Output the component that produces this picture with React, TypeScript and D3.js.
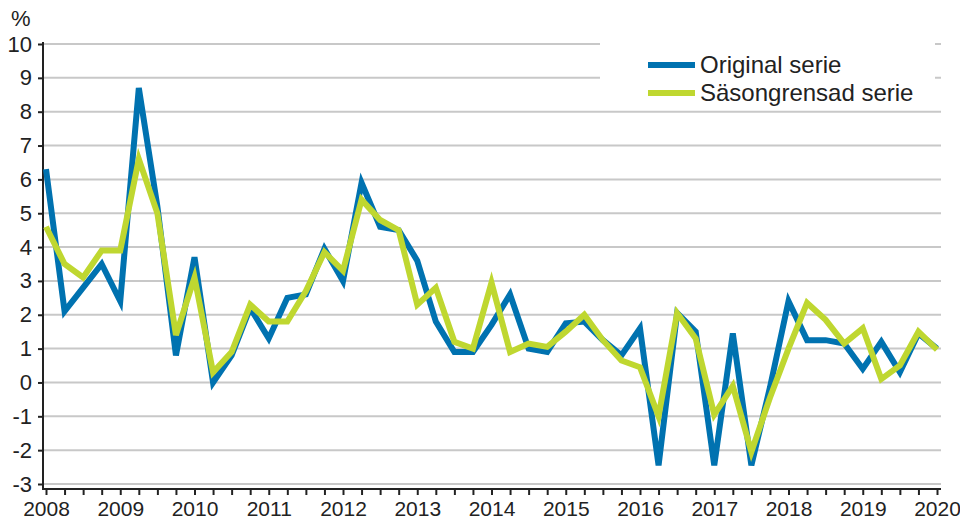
import React, { useEffect, useRef } from "react";
import * as d3 from "d3";

const years = [2008, 2009, 2010, 2011, 2012, 2013, 2014, 2015, 2016, 2017, 2018, 2019, 2020];
const quarters = years.flatMap((y) => (y === 2020 ? [`${y}Q1`] : [1, 2, 3, 4].map((q) => `${y}Q${q}`)));

const original = [
  6.3, 2.1, 2.8, 3.5, 2.4, 8.7, 5.2, 0.8, 3.7, 0.0, 0.8, 2.2, 1.3,
  2.5, 2.6, 3.95, 3.0, 5.9, 4.6, 4.5, 3.6, 1.8, 0.9, 0.9, 1.7, 2.6,
  1.0, 0.9, 1.75, 1.8, 1.25, 0.8, 1.6, -2.45, 2.05, 1.5, -2.45, 1.45,
  -2.45, -0.15, 2.4, 1.25, 1.25, 1.15, 0.4, 1.2, 0.3, 1.45, 1.0,
];
const seasonal = [
  4.6, 3.5, 3.1, 3.9, 3.9, 6.6, 5.0, 1.4, 3.1, 0.3, 0.9, 2.3, 1.8,
  1.8, 2.7, 3.85, 3.3, 5.4, 4.8, 4.5, 2.3, 2.8, 1.2, 1.0, 2.95, 0.9,
  1.15, 1.05, 1.5, 2.0, 1.25, 0.65, 0.45, -1.0, 2.05, 1.3, -0.95, -0.1,
  -2.05, -0.45, 1.0, 2.35, 1.85, 1.15, 1.6, 0.1, 0.5, 1.5, 0.97,
];
const yTicks = [-3, -2, -1, 0, 1, 2, 3, 4, 5, 6, 7, 8, 9, 10];
const seriesNames = ["Original serie", "Säsongrensad serie"];
const seriesColors = ["#0072B0", "#BFD730"];

const width = 960;
const height = 521;
const font = "'Liberation Sans', Arial, sans-serif";

export default function App() {
  const ref = useRef<SVGSVGElement>(null);

  useEffect(() => {
    const svg = d3.select(ref.current);
    svg.selectAll("*").remove();

    const x = d3.scalePoint<string>().domain(quarters).range([46, 937]);
    const y = d3.scaleLinear().domain([-3, 10]).range([484, 44]);

    // gridlines
    svg
      .append("g")
      .selectAll("line")
      .data(yTicks)
      .enter()
      .append("line")
      .attr("x1", 44)
      .attr("x2", 941)
      .attr("y1", (d) => y(d))
      .attr("y2", (d) => y(d))
      .attr("stroke", "#c8c8c8")
      .attr("stroke-width", 2);

    // y axis
    const yAxis = svg
      .append("g")
      .attr("transform", "translate(43,0)")
      .call(
        d3
          .axisLeft(y)
          .tickValues(yTicks)
          .tickSize(5)
          .tickSizeOuter(0)
          .tickPadding(6)
          .tickFormat((d) => String(d))
      );
    yAxis.select(".domain").attr("stroke", "#222").attr("stroke-width", 2).attr("d", `M0,${y(10) - 2}V490`);
    yAxis.selectAll(".tick line").attr("stroke", "#222").attr("stroke-width", 2);
    yAxis
      .selectAll(".tick text")
      .attr("font-family", font)
      .attr("font-size", 22)
      .attr("fill", "#222");

    // x axis
    const xAxis = svg
      .append("g")
      .attr("transform", "translate(0,489)")
      .call(
        d3
          .axisBottom(x)
          .tickSize(6)
          .tickSizeOuter(0)
          .tickPadding(6)
          .tickFormat((d) => (d.endsWith("Q1") ? d.slice(0, 4) : ""))
      );
    xAxis.select(".domain").attr("stroke", "#222").attr("stroke-width", 2).attr("d", "M42,0H941");
    xAxis.selectAll(".tick line").attr("stroke", "#222").attr("stroke-width", 2);
    xAxis
      .selectAll(".tick text")
      .attr("font-family", font)
      .attr("font-size", 21)
      .attr("fill", "#222");

    svg
      .append("text")
      .attr("x", 11)
      .attr("y", 26)
      .attr("font-family", font)
      .attr("font-size", 22)
      .attr("fill", "#222")
      .text("%");

    // lines
    const line = d3
      .line<number>()
      .x((_, i) => x(quarters[i]) as number)
      .y((d) => y(d));

    [original, seasonal].forEach((s, k) => {
      svg
        .append("path")
        .datum(s)
        .attr("fill", "none")
        .attr("stroke", seriesColors[k])
        .attr("stroke-width", 6)
        .attr("stroke-linejoin", "miter")
        .attr("d", line);
    });

    // legend
    const legend = svg.append("g");
    legend.append("rect").attr("x", 600).attr("y", 38).attr("width", 335).attr("height", 68).attr("fill", "#fff");
    seriesNames.forEach((name, k) => {
      const ly = 65 + k * 28;
      legend
        .append("line")
        .attr("x1", 648)
        .attr("x2", 695)
        .attr("y1", ly)
        .attr("y2", ly)
        .attr("stroke", seriesColors[k])
        .attr("stroke-width", 6);
      legend
        .append("text")
        .attr("x", 700)
        .attr("y", ly + 8)
        .attr("font-family", font)
        .attr("font-size", 24)
        .attr("fill", "#222")
        .text(name);
    });
  }, []);

  return <svg ref={ref} width={width} height={height} style={{ position: "absolute", left: 0, top: 0 }} />;
}
